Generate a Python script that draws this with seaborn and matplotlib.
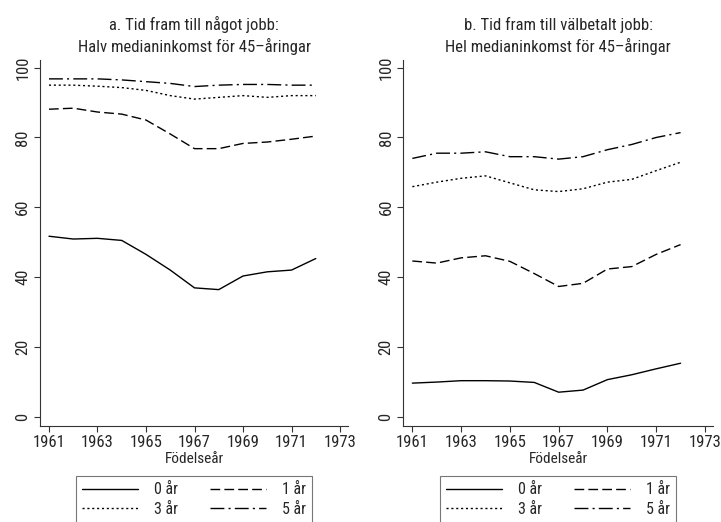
import numpy as np
import pandas as pd
import matplotlib
matplotlib.use("Agg")
import matplotlib.pyplot as plt
import seaborn as sns

sns.set_style("ticks")
plt.rcParams['font.family'] = ['Roboto Condensed', 'Liberation Sans', 'DejaVu Sans']

years = list(range(1961, 1973))
labels = ['0 år', '1 år', '3 år', '5 år']

# panel a: halv medianinkomst
a_0 = [51.7, 50.9, 51.1, 50.5, 46.5, 42.0, 36.9, 36.4, 40.3, 41.5, 42.0, 45.3]
a_1 = [88.1, 88.4, 87.3, 86.7, 85.0, 81.0, 76.8, 76.8, 78.3, 78.7, 79.5, 80.4]
a_3 = [95.0, 95.0, 94.7, 94.3, 93.5, 92.0, 91.0, 91.5, 92.0, 91.5, 92.0, 92.0]
a_5 = [96.8, 96.8, 96.8, 96.5, 96.0, 95.5, 94.6, 95.0, 95.2, 95.2, 95.0, 95.0]

# panel b: hel medianinkomst
b_0 = [9.6, 9.9, 10.3, 10.3, 10.2, 9.8, 7.0, 7.6, 10.6, 12.0, 13.7, 15.3]
b_1 = [44.6, 44.0, 45.5, 46.1, 44.5, 41.0, 37.3, 38.2, 42.3, 43.0, 46.5, 49.3]
b_3 = [65.9, 67.2, 68.3, 69.0, 67.0, 65.0, 64.5, 65.3, 67.2, 68.0, 70.5, 72.9]
b_5 = [74.0, 75.5, 75.5, 75.9, 74.5, 74.5, 73.8, 74.5, 76.5, 78.0, 80.0, 81.4]

titles = ['a. Tid fram till något jobb:\nHalv medianinkomst för 45–åringar',
          'b. Tid fram till välbetalt jobb:\nHel medianinkomst för 45–åringar']
panels = [[a_0, a_1, a_3, a_5], [b_0, b_1, b_3, b_5]]

dashes = {'0 år': '', '1 år': (7, 3), '3 år': (1.5, 2), '5 år': (10, 3, 1.5, 3)}

fig = plt.figure(figsize=(7.21, 5.22), dpi=100)
positions = [[0.0555, 0.1845, 0.4272, 0.7005], [0.5594, 0.1845, 0.4295, 0.7005]]

for pos, title, series in zip(positions, titles, panels):
    ax = fig.add_axes(pos)
    df = pd.DataFrame({'year': years * 4,
                       'value': sum(series, []),
                       'serie': np.repeat(labels, len(years))})
    sns.lineplot(data=df, x='year', y='value', style='serie', dashes=dashes,
                 style_order=labels, color='black', linewidth=1.0, ax=ax, legend=False)
    ax.set_xlim(1960.63, 1973.33)
    ax.set_ylim(-2.6, 102.2)
    ax.set_xticks(range(1961, 1974, 2))
    ax.set_yticks([0, 20, 40, 60, 80, 100])
    ax.set_yticklabels(['0', '20', '40', '60', '80', '100'], rotation=90, va='center')
    ax.tick_params(labelsize=12, length=4, width=0.8, color='#333333', pad=3)
    for s in ['top', 'right']:
        ax.spines[s].set_visible(False)
    for s in ['left', 'bottom']:
        ax.spines[s].set_linewidth(0.8)
        ax.spines[s].set_color('#333333')
    ax.set_xlabel('Födelseår', fontsize=11, labelpad=1)
    ax.set_ylabel('')
    ax.set_title(title, fontsize=12, linespacing=1.3, pad=6)

    lines = ax.get_lines()
    order = [0, 2, 1, 3]
    leg = ax.legend([lines[i] for i in order], [labels[i] for i in order],
                    ncol=2, loc='upper center', bbox_to_anchor=(0.5, -0.115),
                    fontsize=11.5, handlelength=3.5, columnspacing=2.0, handletextpad=1.0,
                    frameon=True, fancybox=False, borderpad=0.4, labelspacing=0.3)
    leg.get_frame().set_edgecolor('#555555')
    leg.get_frame().set_linewidth(0.8)

fig.savefig('out.png', dpi=100)
